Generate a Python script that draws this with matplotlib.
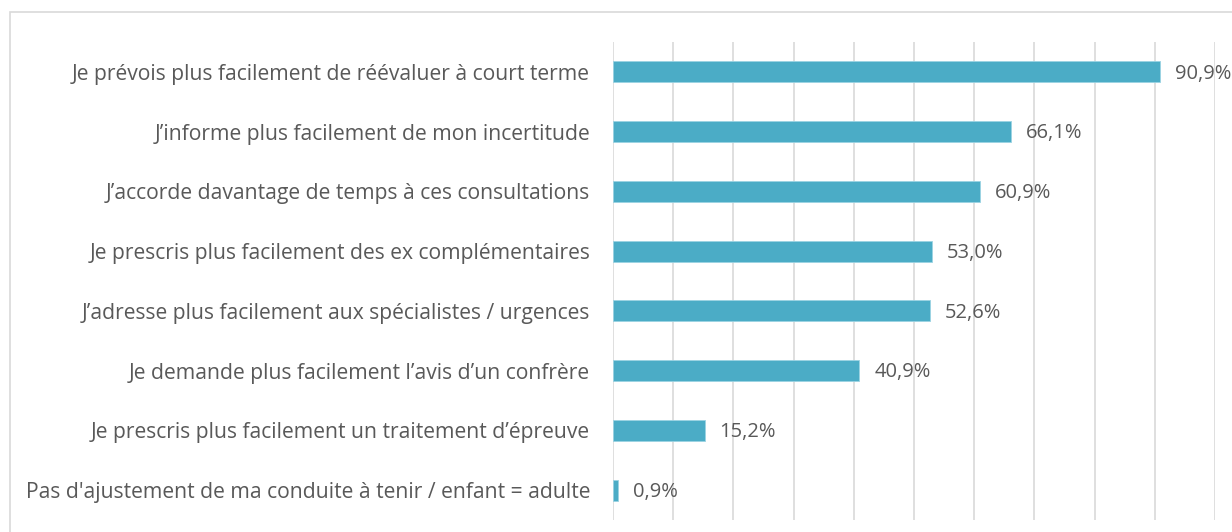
import matplotlib.pyplot as plt
from matplotlib.patches import Rectangle

categories = [
    "Je prévois plus facilement de réévaluer à court terme",
    "J\u2019informe plus facilement de mon incertitude",
    "J\u2019accorde davantage de temps à ces consultations",
    "Je prescris plus facilement des ex complémentaires",
    "J\u2019adresse plus facilement aux spécialistes / urgences",
    "Je demande plus facilement l\u2019avis d\u2019un confrère",
    "Je prescris plus facilement un traitement d\u2019épreuve",
    "Pas d'ajustement de ma conduite à tenir / enfant = adulte",
]
values = [90.9, 66.1, 60.9, 53.0, 52.6, 40.9, 15.2, 0.9]

bar_color = "#4BACC6"
text_color = "#595959"

plt.rcParams['font.family'] = ['Open Sans', 'DejaVu Sans']

fig = plt.figure(figsize=(12.32, 5.32), dpi=100)
# light frame around the chart area
fig.patches.append(Rectangle((10 / 1232, -0.05), 1.1, 1 - 12 / 532 + 0.05,
                             transform=fig.transFigure, fill=False,
                             edgecolor="#D9D9D9", linewidth=1.2))

ax = fig.add_axes([613 / 1232, 12 / 532, 602 / 1232, 478 / 532])

y = list(range(len(categories)))
ax.barh(y, values, height=0.35, color=bar_color, edgecolor="#9BD3E3",
        linewidth=0.6, zorder=3)
for yi, v in zip(y, values):
    ax.text(v + 2.5, yi + 0.03, f"{v:.1f}%".replace(".", ","), va="center",
            ha="left", fontsize=14.5, color=text_color)

ax.set_xlim(0, 100)
ax.set_ylim(len(categories) - 0.5, -0.5)
ax.set_xticks(range(0, 101, 10))
ax.set_xticklabels([])
ax.tick_params(axis="x", length=0)
ax.tick_params(axis="y", length=0, pad=16.5)
ax.set_yticks(y)
ax.set_yticklabels(categories, fontsize=15.2, color=text_color)
ax.grid(axis="x", color="#D9D9D9", linewidth=1.2, zorder=0)
for s in ax.spines.values():
    s.set_visible(False)

fig.savefig("out.png", dpi=100)
